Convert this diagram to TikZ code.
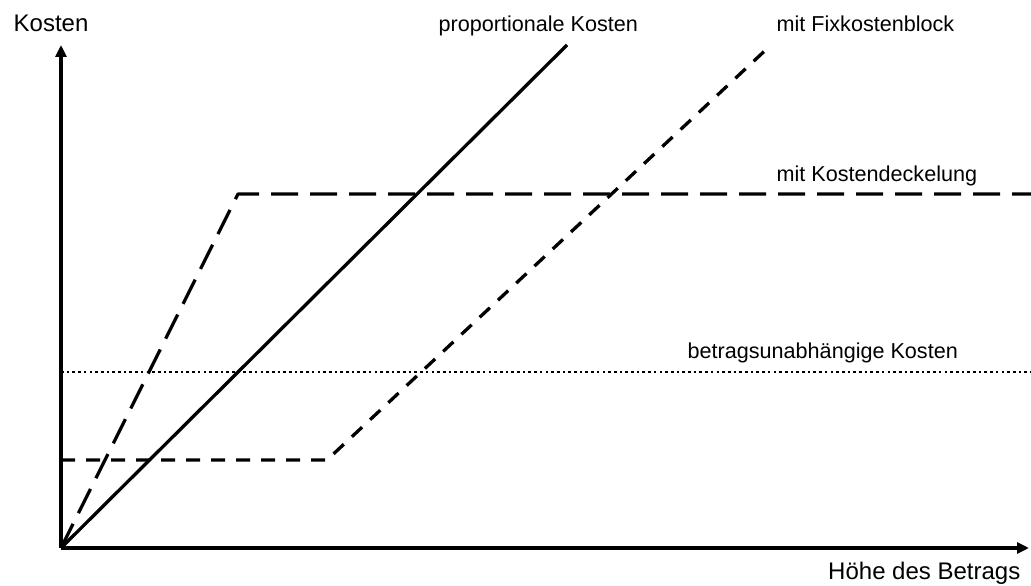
\documentclass[tikz,border=0pt]{standalone}
\usepackage{fontspec}
\setmainfont{Liberation Sans}
\usetikzlibrary{positioning, arrows.meta}

\begin{document}
\begin{tikzpicture}[x=1pt, y=1pt, line width=3.3pt, line join=round,
                axis/.style ={-{Triangle[length=12pt, width=11pt]}},
                axlabel/.style ={font=\fontsize{24}{28}\selectfont, inner sep=0pt},
                curvelabel/.style ={font=\fontsize{21.6}{26}\selectfont, inner sep=0pt, anchor=base west},
                longdash/.style ={dash pattern=on 27pt off 12pt},
                shortdash/.style ={dash pattern=on 14pt off 11pt},
                dotline/.style ={line width=2.8pt, dash pattern=on 2.6pt off 3.1pt}]

            \useasboundingbox (0,0) rectangle (1031,586);

            %Achsen
            \coordinate (o) at (61, 38);
            \coordinate (ytop) at (61, 541);
            \coordinate (xend) at (1029, 38);
            \node[axlabel, anchor=base west] (ylab) at (12, 554) {Kosten};
            \node[axlabel, anchor=base east] (xlab) at (1022, 6) {Höhe des Betrags};

            %Kurven
            \coordinate (prop) at (567, 541);
            \coordinate (fix0) at (61, 126);
            \coordinate (fix1) at (327, 126);
            \coordinate (fix2) at (771, 541);
            \coordinate (cap1) at (238, 392);
            \coordinate (cap2) at (1031, 392);
            \coordinate (flat0) at (61, 214);
            \coordinate (flat1) at (1031, 214);

            \draw[dotline] (flat0) -- (flat1);
            \draw[shortdash] (fix0) -- (fix1) -- (fix2);
            \draw[longdash] (o) -- (cap1) -- (cap2);
            \draw (o) -- (prop);

            \draw[axis] (o) -- (ytop);
            \draw[axis] (o) -- (xend);

            %Beschriftungen
            \node[curvelabel] (lprop) at (437, 554) {proportionale Kosten};
            \node[curvelabel] (lfix) at (775, 554) {mit Fixkostenblock};
            \node[curvelabel] (lcap) at (775, 404) {mit Kostendeckelung};
            \node[curvelabel] (lflat) at (686, 227) {betragsunabhängige Kosten};
    \end{tikzpicture}
\end{document}
